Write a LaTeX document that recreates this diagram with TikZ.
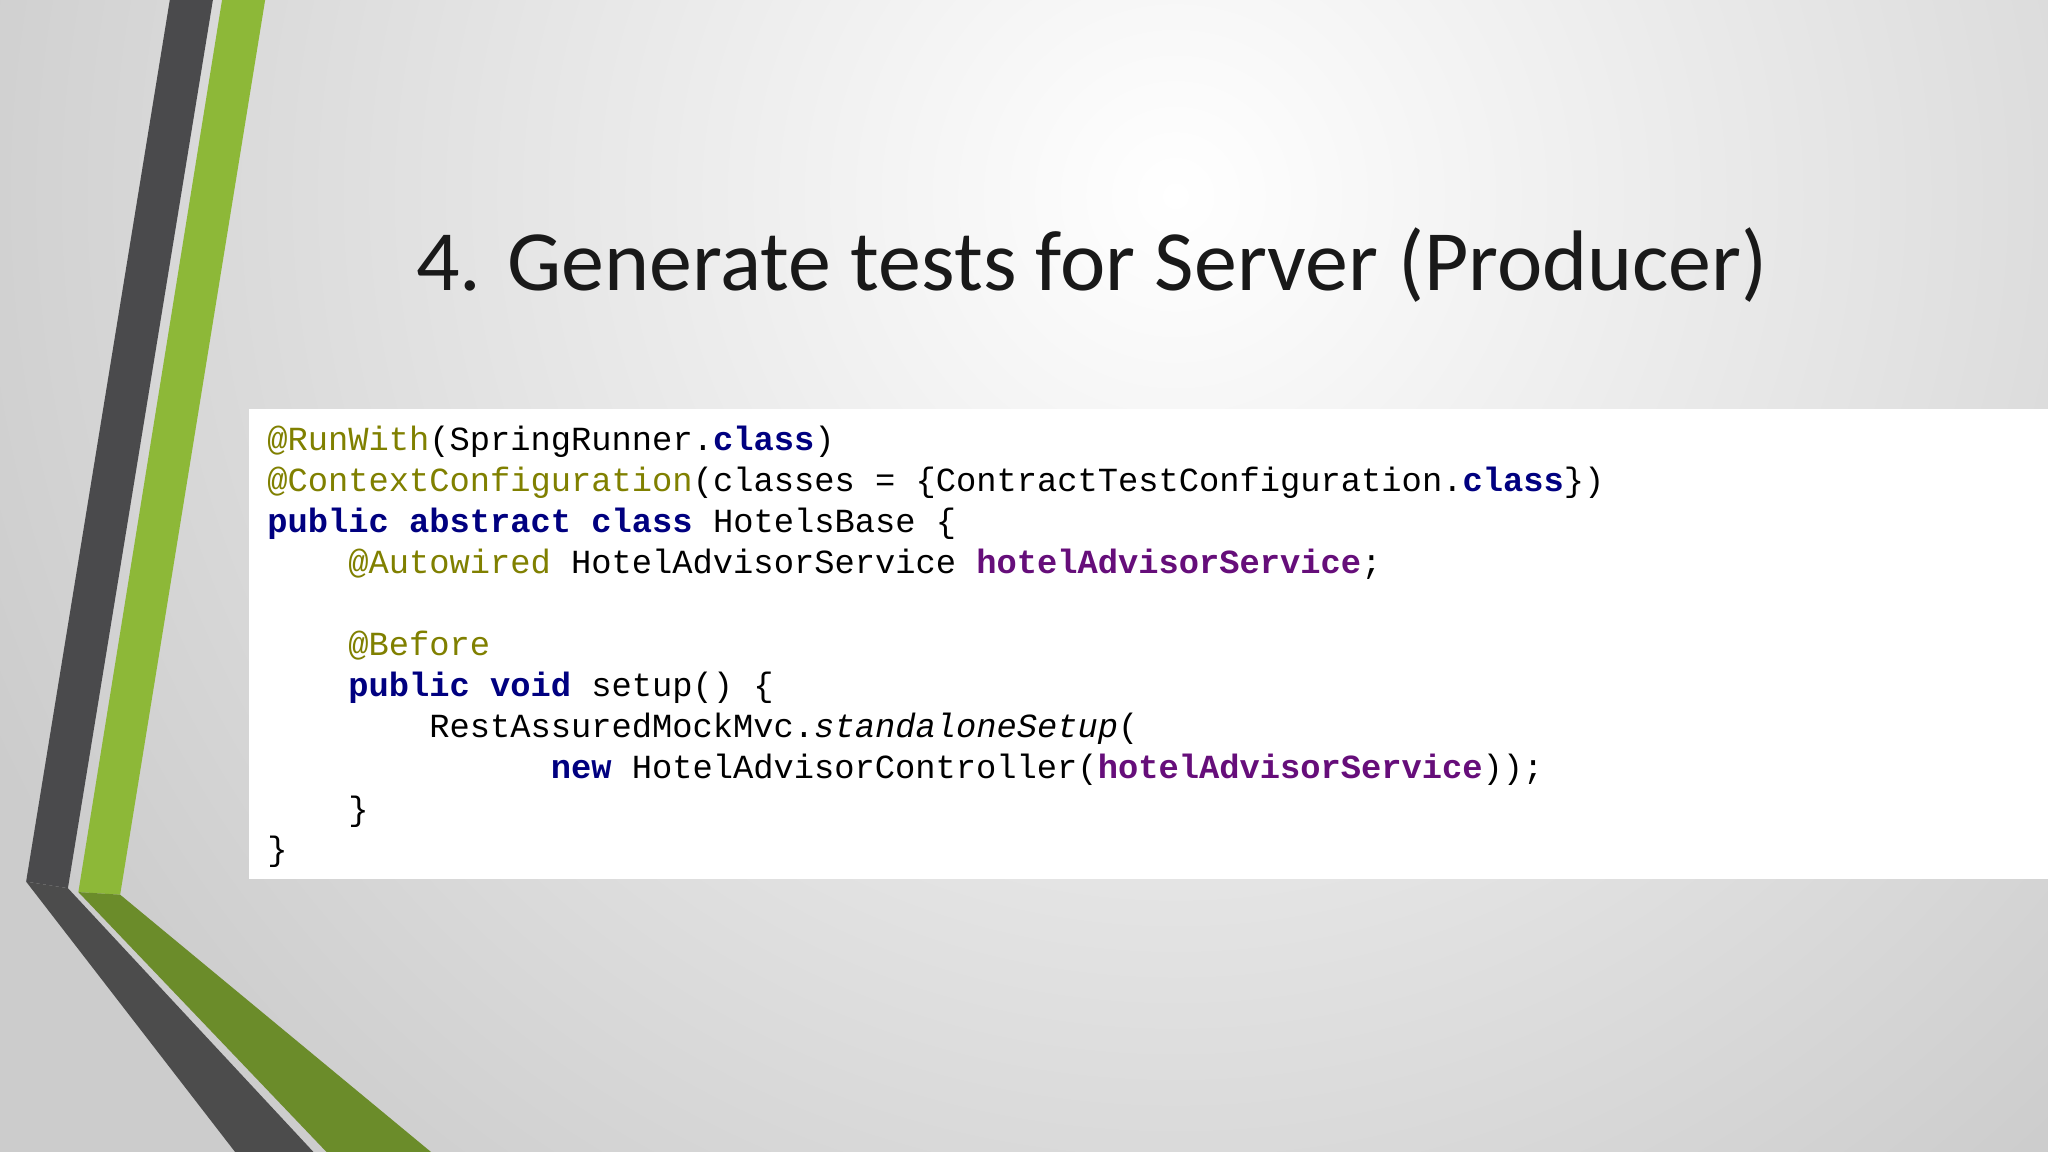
\documentclass[tikz,border=0pt]{standalone}
\usepackage{fontspec}
\setmainfont{Carlito}
\newfontfamily\codefont{Liberation Mono}
\definecolor{ann}{HTML}{808000}
\definecolor{kw}{HTML}{000080}
\definecolor{fld}{HTML}{660E7A}
\definecolor{dkg}{HTML}{4A4A4C}
\definecolor{grn}{HTML}{8DB838}
\definecolor{dgrn}{HTML}{6B8C2A}
\begin{document}
\begin{tikzpicture}[x=0.01cm,y=-0.01cm,
  code/.style={anchor=base west,inner sep=0pt,font=\codefont\fontsize{7.35}{9}\selectfont},
  title/.style={font=\fontsize{18.7}{22}\selectfont,text=black!90}]
\newcommand\A[1]{\textcolor{ann}{#1}}
\newcommand\K[1]{\textcolor{kw}{\bfseries #1}}
\newcommand\F[1]{\textcolor{fld}{\bfseries #1}}
\useasboundingbox (0,0) rectangle (1568,882);
\fill[gray!40] (0,0) rectangle (1568,882);
\begin{scope}
\clip (0,0) rectangle (1568,882);
\shade[inner color=white,outer color=gray!40] (900,150) circle (1000);
\end{scope}
% stripes
\fill[dkg] (130,0) -- (163,0) -- (52,680) -- (20,675) -- cycle;
\fill[black!70] (20,675) -- (52,680) -- (240,882) -- (180,882) -- cycle;
\fill[grn] (170,0) -- (203,0) -- (92,685) -- (60,683) -- cycle;
\fill[dgrn] (60,683) -- (92,685) -- (330,882) -- (250,882) -- cycle;
\node[title] (t) at (836,203) {4. Generate tests for Server (Producer)};
\fill[white] (191,313) rectangle (1568,673);
\node[code] (l1) at (204,345) {\A{@RunWith}(SpringRunner.\K{class})};
\node[code] (l2) at (204,376) {\A{@ContextConfiguration}(classes = \{ContractTestConfiguration.\K{class}\})};
\node[code] (l3) at (204,408) {\K{public abstract class} HotelsBase \{};
\node[code] (l4) at (266,439) {\A{@Autowired} HotelAdvisorService \F{hotelAdvisorService};};
\node[code] (l5) at (266,502) {\A{@Before}};
\node[code] (l6) at (266,533) {\K{public void} setup() \{};
\node[code] (l7) at (328,565) {RestAssuredMockMvc.\textit{standaloneSetup}(};
\node[code] (l8) at (421,596) {\K{new} HotelAdvisorController(\F{hotelAdvisorService}));};
\node[code] (l9) at (266,628) {\}};
\node[code] (l10) at (204,659) {\}};
\end{tikzpicture}
\end{document}
